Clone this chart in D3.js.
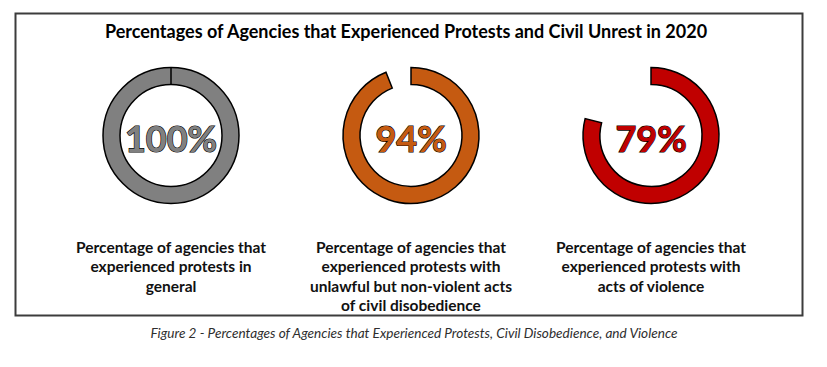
<!DOCTYPE html>
<html lang="en">
<head>
    <meta charset="UTF-8">
    <title>Percentages of Agencies that Experienced Protests and Civil Unrest in 2020</title>
    <style>
        body {
            margin: 0;
            background-color: #ffffff;
        }

        svg {
            display: block;
            font-family: Lato, "Open Sans", sans-serif;
        }

        .title {
            font-size: 18px;
            font-weight: bold;
            fill: #000;
        }

        .pct {
            font-size: 36px;
            font-weight: bold;
            stroke: #000;
            stroke-width: 1.2;
            paint-order: stroke;
        }

        .label {
            font-size: 15.5px;
            font-weight: bold;
            fill: #111;
        }

        .caption {
            font-size: 13.6px;
            font-style: italic;
            fill: #2e2e2e;
        }
    </style>
</head>
<body>
    <svg id="chart" width="827" height="367"></svg>

    <script src="https://d3js.org/d3.v7.min.js"></script>
    <script>
        // data
        const categories = ["general", "nonviolent", "violence"];
        const percents = [100, 94, 79];
        const colors = ["#808080", "#c55a11", "#c00000"];
        const labels = [
            ["Percentage of agencies that", "experienced protests in", "general"],
            ["Percentage of agencies that", "experienced protests with", "unlawful but non-violent acts", "of civil disobedience"],
            ["Percentage of agencies that", "experienced protests with", "acts of violence"]
        ];
        const titleText = "Percentages of Agencies that Experienced Protests and Civil Unrest in 2020";
        const captionText = "Figure 2 - Percentages of Agencies that Experienced Protests, Civil Disobedience, and Violence";

        const svg = d3.select("#chart");

        // outer frame
        svg.append("rect")
            .attr("x", 15.5)
            .attr("y", 13.5)
            .attr("width", 787)
            .attr("height", 302)
            .attr("fill", "none")
            .attr("stroke", "#3c3c3c")
            .attr("stroke-width", 2);

        svg.append("text")
            .attr("class", "title")
            .attr("x", 406)
            .attr("y", 38)
            .attr("text-anchor", "middle")
            .text(titleText);

        // one column per category
        const x = d3.scalePoint()
            .domain(categories)
            .range([171, 651]);

        // percent -> angle, clockwise from 12 o'clock
        const angle = d3.scaleLinear()
            .domain([0, 100])
            .range([0, 2 * Math.PI]);

        const arc = d3.arc()
            .innerRadius(51)
            .outerRadius(68)
            .startAngle(0);

        const cy = 135.5;

        const cols = svg.selectAll("g.col")
            .data(categories)
            .enter()
            .append("g")
            .attr("class", "col")
            .attr("transform", d => `translate(${x(d)},0)`);

        cols.append("path")
            .attr("transform", `translate(0,${cy})`)
            .attr("d", (d, i) => arc({ endAngle: angle(percents[i]) }))
            .attr("fill", (d, i) => colors[i])
            .attr("stroke", "#000")
            .attr("stroke-width", 1.5)
            .attr("stroke-linejoin", "miter");

        // the full ring shows its seam at the top
        cols.filter((d, i) => percents[i] === 100)
            .append("line")
            .attr("x1", 0).attr("x2", 0)
            .attr("y1", cy - 68).attr("y2", cy - 51)
            .attr("stroke", "#000")
            .attr("stroke-width", 1.5);

        cols.append("text")
            .attr("class", "pct")
            .attr("x", 0)
            .attr("y", cy + 16.5)
            .attr("text-anchor", "middle")
            .attr("fill", (d, i) => colors[i])
            .text((d, i) => percents[i] + "%");

        cols.append("text")
            .attr("class", "label")
            .attr("text-anchor", "middle")
            .selectAll("tspan")
            .data((d, i) => labels[i])
            .enter()
            .append("tspan")
            .attr("x", 0)
            .attr("y", (d, j) => 253 + j * 19.4)
            .text(d => d);

        svg.append("text")
            .attr("class", "caption")
            .attr("x", 414)
            .attr("y", 338)
            .attr("text-anchor", "middle")
            .text(captionText);
    </script>
</body>
</html>
